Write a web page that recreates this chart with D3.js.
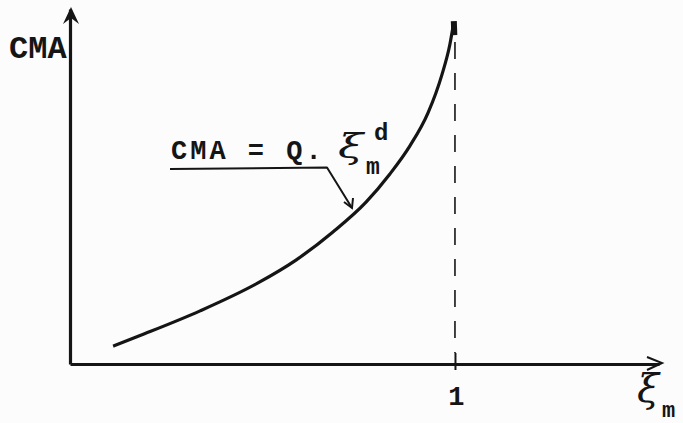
<!DOCTYPE html>
<html>
<head>
<meta charset="utf-8">
<script src="https://cdn.jsdelivr.net/npm/d3@7"></script>
<style>
  html, body { margin: 0; padding: 0; background: #fcfcfc; }
  svg { display: block; }
  .mono { font-family: "Liberation Mono", "DejaVu Sans Mono", monospace; font-weight: bold; fill: #151515; }
  .script { font-family: "DejaVu Serif", serif; font-style: italic; fill: #151515; }
</style>
</head>
<body>
<svg id="chart" width="683" height="423"></svg>
<script>
// Relative degree of capacity use (ξm) and the resulting CMA curve
const xiValues  = [0.112, 0.182, 0.338, 0.486, 0.587, 0.683, 0.769, 0.831, 0.883, 0.930, 0.966, 0.987, 0.997];
const cmaValues = [0.052, 0.083, 0.155, 0.235, 0.303, 0.385, 0.472, 0.554, 0.636, 0.732, 0.843, 0.933, 0.997];
const xTickValues = [1];
const xTickLabels = ["1"];
const yAxisLabel = "CMA";
const formulaLabel = "CMA = Q.";

const ink = "#151515";
const svg = d3.select("#chart");

// Axis extents run a little beyond the plotted range, ending in arrows
const x = d3.scaleLinear().domain([0, 1.53]).range([70, 659]);
const y = d3.scaleLinear().domain([0, 1.035]).range([364, 9]);

// Horizontal axis with the single tick at ξm = 1
const gx = svg.append("g")
  .attr("transform", `translate(0,${y(0)})`)
  .call(d3.axisBottom(x).tickValues(xTickValues)
        .tickFormat((d, i) => xTickLabels[i]).tickSizeOuter(0));
gx.select(".domain").attr("stroke", ink).attr("stroke-width", 3);
gx.selectAll(".tick line").attr("stroke", ink).attr("stroke-width", 2)
  .attr("y1", -11).attr("y2", 6);
gx.selectAll(".tick text").attr("class", "mono").attr("y", 41).attr("dy", null)
  .attr("dx", 1).style("font-size", "27px").attr("fill", ink);

// Vertical axis without ticks
const gy = svg.append("g")
  .attr("transform", `translate(${x(0)},0)`)
  .call(d3.axisLeft(y).tickValues([]).tickSizeOuter(0));
gy.select(".domain").attr("stroke", ink).attr("stroke-width", 3.2);

// Arrow heads
const yTop = y(y.domain()[1]);
svg.append("path")
  .attr("d", `M${x(0) + 1},${yTop - 2} L${x(0) + 9},${yTop + 15} L${x(0) + 1},${yTop + 9} L${x(0) - 7},${yTop + 15} Z`)
  .attr("fill", ink);
const xEnd = x(x.domain()[1]);
svg.append("path")
  .attr("d", `M${xEnd - 12},${y(0) - 7} L${xEnd + 3},${y(0) - 1} L${xEnd - 12},${y(0) + 6}`)
  .attr("fill", "none").attr("stroke", ink).attr("stroke-width", 2);

// Dashed asymptote at ξm = 1
svg.append("line")
  .attr("x1", x(1)).attr("x2", x(1))
  .attr("y1", y(cmaValues[cmaValues.length - 1]) + 20).attr("y2", y(0) - 11)
  .attr("stroke", ink).attr("stroke-width", 1.6)
  .attr("stroke-dasharray", "17,14");

// The CMA curve
const pts = xiValues.map((v, i) => [v, cmaValues[i]]);
const line = d3.line().x(d => x(d[0])).y(d => y(d[1])).curve(d3.curveMonotoneX);
svg.append("path").datum(pts)
  .attr("d", line)
  .attr("fill", "none").attr("stroke", ink).attr("stroke-width", 3.2)
  .attr("stroke-linecap", "butt");
// heavier end of the curve at the top
const last = pts[pts.length - 1];
svg.append("line")
  .attr("x1", x(last[0])).attr("x2", x(last[0]) + 0.5)
  .attr("y1", y(last[1]) - 1).attr("y2", y(last[1]) + 13)
  .attr("stroke", ink).attr("stroke-width", 6);

// Axis titles
svg.append("text").attr("class", "mono")
  .attr("x", 9).attr("y", 58).style("font-size", "32px")
  .text(yAxisLabel);
svg.append("text").attr("class", "script")
  .attr("x", 637).attr("y", 402).style("font-size", "40px").text("ξ");
svg.append("text").attr("class", "mono")
  .attr("x", 662).attr("y", 417).style("font-size", "22px").text("m");

// Formula with leader arrow to the curve
svg.append("text").attr("class", "mono")
  .attr("x", 171).attr("y", 159).style("font-size", "27px")
  .attr("letter-spacing", "3px").attr("xml:space", "preserve")
  .text(formulaLabel);
svg.append("text").attr("class", "script")
  .attr("transform", "translate(338,158) scale(1.35,1)")
  .style("font-size", "34px").text("ξ");
svg.append("text").attr("class", "mono")
  .attr("x", 374).attr("y", 140).style("font-size", "24px").text("d");
svg.append("text").attr("class", "mono")
  .attr("x", 366).attr("y", 174).style("font-size", "23px").text("m");

const tip = [352, 208];
svg.append("path")
  .attr("d", `M170,169 L327,167.5 L${tip[0]},${tip[1]}`)
  .attr("fill", "none").attr("stroke", ink).attr("stroke-width", 2)
  .attr("stroke-linejoin", "round");
svg.append("path")
  .attr("d", `M${tip[0] - 8},${tip[1] - 6} L${tip[0]},${tip[1]} L${tip[0] + 1},${tip[1] - 10}`)
  .attr("fill", "none").attr("stroke", ink).attr("stroke-width", 2);
</script>
</body>
</html>
